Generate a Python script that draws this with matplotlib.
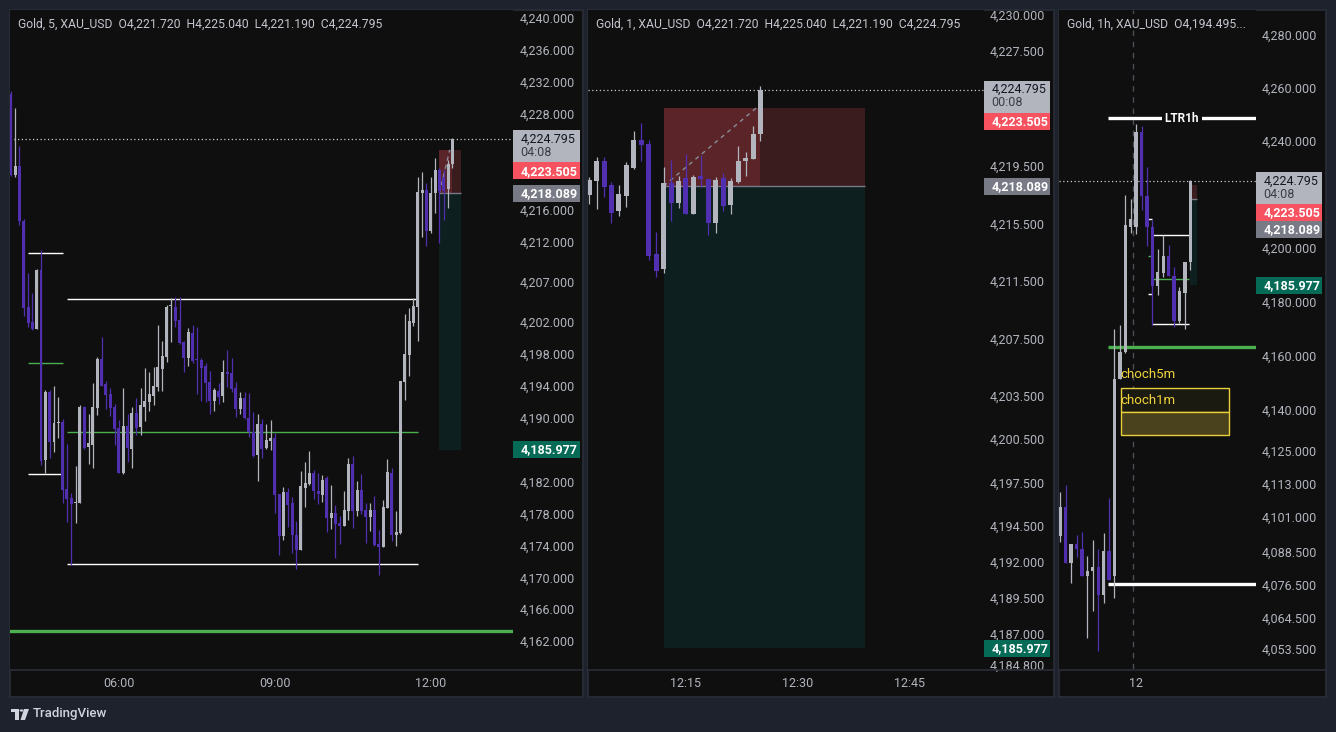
import numpy as np
import matplotlib
matplotlib.use("Agg")
import matplotlib.pyplot as plt
from matplotlib.patches import Rectangle, Polygon, Circle
from matplotlib.lines import Line2D
from matplotlib.ticker import NullLocator, NullFormatter

# ------------------------------------------------------------------ data
# Panel 1 : Gold 5 min, first bar 03:55 (minutes after midnight = 235)
m5_first = 235
m5_open = [4230.5, 4220.35, 4221.48, 4214.64, 4203.83, 4201.91, 4201.08, 4208.46, 4184.68, 4193.19,
           4186.98, 4189.30, 4189.44, 4181.05, 4179.93, 4179.30, 4179.34, 4191.36, 4186.35, 4186.56,
           4191.23, 4197.32, 4194.20, 4192.94, 4191.31, 4188.64, 4183.10, 4188.94, 4186.10, 4190.56,
           4188.81, 4191.36, 4191.94, 4192.69, 4193.82, 4196.07, 4197.57, 4203.90, 4203.83, 4202.20,
           4199.45, 4197.45, 4200.58, 4197.30, 4197.20, 4196.45, 4194.45, 4192.07, 4193.32, 4192.69,
           4195.60, 4195.57, 4193.69, 4191.07, 4192.44, 4189.94, 4188.19, 4185.31, 4189.19, 4186.18,
           4187.06, 4187.44, 4180.43, 4175.17, 4180.68, 4179.30, 4175.30, 4173.42, 4181.18, 4181.68,
           4183.05, 4180.80, 4180.30, 4182.43, 4177.42, 4178.05, 4176.80, 4176.42, 4178.30, 4184.18,
           4178.30, 4180.92, 4178.42, 4177.55, 4178.42, 4174.17, 4173.79, 4178.67, 4183.05, 4175.29,
           4175.54, 4194.45, 4197.82, 4201.83, 4203.83, 4218.10, 4218.47, 4213.34, 4218.10, 4220.97,
           4220.10, 4218.60, 4221.72]
m5_high = [4230.8, 4228.70, 4223.98, 4214.85, 4208.13, 4205.62, 4208.59, 4210.96, 4193.44, 4193.44,
           4193.94, 4192.57, 4189.80, 4186.69, 4180.51, 4183.93, 4191.57, 4191.44, 4190.44, 4194.28,
           4197.62, 4200.08, 4194.57, 4193.73, 4191.69, 4189.69, 4193.69, 4190.44, 4191.32, 4192.44,
           4193.69, 4196.20, 4195.70, 4196.32, 4201.58, 4199.58, 4204.08, 4204.96, 4205.08, 4205.08,
           4199.58, 4201.20, 4201.58, 4201.33, 4197.45, 4196.82, 4195.82, 4193.69, 4194.32, 4197.20,
           4198.45, 4197.45, 4194.45, 4193.20, 4193.20, 4193.07, 4190.69, 4190.44, 4189.81, 4189.19,
           4189.69, 4188.06, 4180.43, 4181.30, 4181.18, 4180.05, 4177.05, 4183.31, 4184.43, 4185.81,
           4183.43, 4183.06, 4182.80, 4182.68, 4181.55, 4179.05, 4177.67, 4180.80, 4184.93, 4185.18,
           4182.05, 4182.93, 4179.30, 4179.30, 4180.17, 4175.92, 4179.67, 4184.80, 4183.68, 4178.30,
           4194.57, 4202.95, 4203.70, 4204.95, 4220.10, 4220.72, 4219.35, 4220.10, 4222.48, 4221.22,
           4221.10, 4222.23, 4225.04]
m5_low = [4220.2, 4220.06, 4214.09, 4202.70, 4201.37, 4200.95, 4201.08, 4184.06, 4183.10, 4184.97,
          4185.73, 4187.48, 4179.34, 4176.92, 4171.54, 4176.84, 4179.30, 4186.06, 4184.18, 4183.72,
          4190.31, 4193.99, 4191.06, 4190.23, 4186.56, 4183.05, 4182.93, 4184.47, 4183.72, 4187.85,
          4187.85, 4189.60, 4190.86, 4191.57, 4193.32, 4193.32, 4196.95, 4199.45, 4201.33, 4199.20,
          4195.70, 4196.45, 4196.82, 4192.94, 4192.07, 4191.94, 4190.44, 4190.81, 4191.69, 4191.94,
          4193.82, 4193.20, 4190.07, 4190.44, 4189.81, 4187.56, 4185.06, 4182.05, 4184.93, 4186.06,
          4185.93, 4178.05, 4172.80, 4174.67, 4176.30, 4173.05, 4171.04, 4173.42, 4178.80, 4181.55,
          4179.80, 4179.18, 4179.43, 4175.67, 4176.05, 4172.42, 4174.17, 4176.42, 4177.17, 4176.17,
          4177.67, 4177.92, 4174.29, 4175.79, 4173.92, 4170.29, 4173.79, 4178.67, 4174.54, 4173.92,
          4175.42, 4192.19, 4195.19, 4201.45, 4199.57, 4212.59, 4211.46, 4213.09, 4215.59, 4211.84,
          4214.72, 4216.22, 4221.19]
m5_close = [4220.4, 4221.48, 4214.64, 4203.75, 4201.87, 4201.08, 4208.46, 4184.60, 4193.19, 4186.98,
            4189.27, 4189.40, 4180.93, 4179.80, 4179.17, 4179.40, 4191.36, 4186.14, 4186.77, 4191.36,
            4197.32, 4193.99, 4192.86, 4191.23, 4188.60, 4183.05, 4188.94, 4186.23, 4190.56, 4188.69,
            4191.57, 4192.07, 4192.94, 4193.94, 4196.32, 4197.70, 4203.83, 4203.99, 4202.08, 4199.32,
            4197.45, 4200.70, 4197.07, 4197.20, 4196.20, 4194.32, 4192.07, 4193.44, 4192.57, 4195.70,
            4195.50, 4193.57, 4191.07, 4192.44, 4189.94, 4188.19, 4185.18, 4189.19, 4186.06, 4187.19,
            4187.44, 4180.30, 4175.17, 4180.68, 4179.05, 4175.30, 4173.42, 4181.43, 4181.80, 4183.05,
            4180.80, 4180.43, 4182.18, 4177.42, 4178.05, 4176.67, 4176.42, 4178.42, 4184.18, 4178.30,
            4180.92, 4178.30, 4177.55, 4178.42, 4174.04, 4173.79, 4178.80, 4183.18, 4175.29, 4175.67,
            4194.57, 4197.95, 4202.08, 4203.95, 4218.22, 4218.47, 4213.34, 4218.10, 4220.97, 4218.35,
            4218.35, 4221.72, 4224.795]

# Panel 2 : Gold 1 min, first bar 12:02 (minute 722)
m1_first = 722
m1_open = [4217.47, 4218.44, 4219.83, 4218.16, 4216.38, 4217.42, 4219.37, 4221.29, 4221.01, 4213.37,
           4212.30, 4218.33, 4216.94, 4218.68, 4216.17, 4218.79, 4218.60, 4215.55, 4218.68, 4216.80,
           4218.40, 4219.83, 4219.97, 4221.72]
m1_high = [4218.74, 4220.13, 4220.13, 4218.40, 4218.16, 4219.74, 4221.92, 4222.45, 4221.29, 4214.92,
           4219.44, 4219.90, 4218.79, 4220.32, 4218.86, 4220.25, 4218.60, 4218.74, 4218.98, 4218.68,
           4220.90, 4220.48, 4222.27, 4225.04]
m1_low = [4216.84, 4216.49, 4217.35, 4215.55, 4216.01, 4216.66, 4219.28, 4219.86, 4212.95, 4211.79,
          4212.03, 4215.66, 4216.59, 4216.17, 4216.17, 4218.05, 4214.69, 4214.81, 4216.38, 4216.17,
          4218.28, 4218.82, 4219.97, 4221.19]
m1_close = [4218.51, 4219.83, 4218.05, 4216.24, 4217.54, 4219.55, 4221.29, 4220.94, 4213.25, 4212.21,
            4218.33, 4216.94, 4218.44, 4216.17, 4218.74, 4218.58, 4215.55, 4218.51, 4216.70, 4218.44,
            4219.83, 4220.02, 4221.71, 4224.795]

# Panel 3 : Gold 1 h, first bar 12:00 of the previous day (minute -720)
h1_first = -720
h1_open = [4093.9, 4104.6, 4084.1, 4091.2, 4089.4, 4079.6, 4081.3, 4082.8, 4072.6, 4088.6,
           4079.6, 4151.5, 4161.3, 4207.8, 4207.8, 4243.2, 4219.3, 4207.7, 4185.8, 4190.6,
           4196.9, 4189.5, 4172.8, 4183.2, 4194.495]
h1_high = [4110.1, 4112.4, 4091.2, 4094.5, 4095.6, 4086.8, 4092.7, 4089.4, 4095.2, 4107.7,
           4169.9, 4171.4, 4219.6, 4218.1, 4246.2, 4245.4, 4229.9, 4210.3, 4199.5, 4204.7,
           4201.0, 4192.8, 4185.4, 4194.5, 4225.04]
h1_low = [4091.7, 4084.1, 4077.1, 4086.5, 4079.6, 4057.3, 4066.9, 4052.7, 4069.8, 4078.0,
          4071.6, 4151.3, 4161.0, 4205.4, 4205.0, 4214.0, 4200.6, 4171.4, 4182.5, 4189.1,
          4189.3, 4170.6, 4172.1, 4169.9, 4191.8]
h1_close = [4104.6, 4084.1, 4091.2, 4089.4, 4079.6, 4081.3, 4082.8, 4072.6, 4088.6, 4078.1,
            4151.5, 4161.3, 4208.5, 4210.7, 4243.2, 4219.3, 4207.7, 4185.8, 4191.0, 4196.9,
            4189.3, 4172.8, 4184.0, 4194.5, 4224.795]

last_price = 4224.795
pos_entry, pos_stop, pos_target = 4218.089, 4223.505, 4185.977

# drawings (start minute, end minute, price)
thin_white = [(255, 295, 4210.55), (255, 295, 4182.89), (300, 705, 4204.79), (300, 705, 4171.63)]
thin_green = [(255, 295, 4196.78), (300, 705, 4188.15)]
thick_green = [(-195, 3000, 4163.3)]
thick_white = [(-195, 3000, 4248.4), (-195, 3000, 4076.6)]
ltr_label = "LTR1h"
choch_box_top = [(-51, 1146, 4139.2, 4148.2)]
choch_box_bottom = [(-51, 1146, 4131.0, 4139.2)]
choch_texts = [("choch5m", -51, 4153.2), ("choch1m", -51, 4143.6)]

p1_ticks = [4240, 4236, 4232, 4228, 4216, 4212, 4207, 4202, 4198, 4194, 4190, 4182, 4178, 4174,
            4170, 4166, 4162]
p2_ticks = [4230, 4227.5, 4219.5, 4215.5, 4211.5, 4207.5, 4203.5, 4200.5, 4197.5, 4194.5, 4192,
            4189.5, 4187, 4184.8]
p3_ticks = [4280, 4260, 4240, 4200, 4180, 4160, 4140, 4125, 4113, 4101, 4088.5, 4076.5, 4064.5,
            4053.5]
p1_xticks, p1_xlabels = [360, 540, 720], ["06:00", "09:00", "12:00"]
p2_xticks, p2_xlabels = [735, 750, 765], ["12:15", "12:30", "12:45"]
p3_xticks, p3_xlabels = [120], ["12"]

headers = ["Gold, 5, XAU_USD  O4,221.720  H4,225.040  L4,221.190  C4,224.795",
           "Gold, 1, XAU_USD  O4,221.720  H4,225.040  L4,221.190  C4,224.795",
           "Gold, 1h, XAU_USD  O4,194.495..."]
countdowns = ["04:08", "00:08", "04:08"]

# ------------------------------------------------------------------ style
plt.rcParams['font.family'] = ['Roboto', 'DejaVu Sans']
W, H = 1336, 732
BG = '#1e222d'
PANEL = '#0f0f0f'
BORDER = '#2a2e39'
TXT = '#b2b5be'
UPC = '#b2b5be'
DNC = '#5030b0'
GREEN = '#4caf50'

fig = plt.figure(figsize=(W / 100, H / 100), dpi=100, facecolor=BG)


def fx(x):
    return x / W


def fy(y):
    return 1 - y / H


def panel_bg(x0, x1, y0=9.5, y1=696.5):
    fig.add_artist(Rectangle((fx(x0), fy(y1)), fx(x1) - fx(x0), fy(y0) - fy(y1),
                             transform=fig.transFigure, fc=PANEL, ec=BORDER, lw=1.2, zorder=-5))
    fig.add_artist(Line2D([fx(x0), fx(x1)], [fy(669.5)] * 2, color=BORDER, lw=1.2,
                          transform=fig.transFigure, zorder=5))


def make_ax(x0, x1, y0=10, y1=669):
    ax = fig.add_axes([fx(x0), fy(y1), fx(x1) - fx(x0), fy(y0) - fy(y1)])
    ax.set_facecolor(PANEL)
    for s in ax.spines.values():
        s.set_visible(False)
    return ax


def inside(ax, x, y):
    x0, x1 = ax.get_xlim()
    y0, y1 = ax.get_ylim()
    return x0 <= x <= x1 and y0 <= y <= y1


def candles(ax, first, step, o, h, l, c, wfrac, min_h):
    o, h, l, c = map(np.asarray, (o, h, l, c))
    x = first + step * np.arange(len(o))
    cols = np.where(c >= o, UPC, DNC)
    ax.vlines(x, l, h, colors=cols, lw=0.9, zorder=4)
    bottom = np.minimum(o, c)
    height = np.maximum(np.abs(c - o), min_h)
    ax.bar(x, height, step * wfrac, bottom, color=cols, linewidth=0, zorder=5)
    return x


def setup_axis(ax, ticks, xt, xl, pad_px):
    ax.yaxis.tick_right()
    ax.set_yticks(ticks)
    ax.set_yticklabels([f"{v:,.3f}" for v in ticks])
    ax.yaxis.set_minor_locator(NullLocator())
    ax.yaxis.set_minor_formatter(NullFormatter())
    ax.tick_params(axis='y', length=0, pad=pad_px * 0.72, labelsize=9, labelcolor=TXT)
    for lab in ax.get_yticklabels():
        lab.set_horizontalalignment('right')
    ax.set_xticks(xt)
    ax.set_xticklabels(xl)
    ax.xaxis.set_minor_locator(NullLocator())
    ax.tick_params(axis='x', length=0, pad=5.5, labelsize=9, labelcolor=TXT)


def drawings(ax, xlim):
    for s, e, p in thin_white:
        ax.hlines(p, s, e, color='white', lw=1.0, zorder=3)
    for s, e, p in thin_green:
        ax.hlines(p, s, e, color=GREEN, lw=1.0, zorder=3)
    for s, e, p in thick_green:
        ax.hlines(p, s, e, color=GREEN, lw=2.4, zorder=3)
    for i, (s, e, p) in enumerate(thick_white):
        ax.hlines(p, s, e, color='white', lw=2.4, zorder=3)
        if i == 0:
            cx = (max(s, xlim[0]) + min(e, xlim[1])) / 2
            if inside(ax, cx, p):
                ax.text(cx, p, ltr_label, color='white', fontsize=8.5, fontweight='bold',
                        ha='center', va='center', zorder=6,
                        bbox=dict(boxstyle='square,pad=0.25', fc=PANEL, ec='none'))
    for s, e, b, t in choch_box_top:
        ax.add_patch(Rectangle((s, b), e - s, t - b, fc='#1b1a10', ec='#e9cf3c', lw=1.0, zorder=2))
    for s, e, b, t in choch_box_bottom:
        ax.add_patch(Rectangle((s, b), e - s, t - b, fc='#4a421c', ec='#e9cf3c', lw=1.0, zorder=2))
    for txt, s, p in choch_texts:
        if inside(ax, s, p):
            ax.text(s, p, txt, color='#f2d43d', fontsize=9.5, ha='left', va='center', zorder=6)


def position_tool(ax, start, end, current, step, diag=True):
    ax.add_patch(Rectangle((start, pos_entry), current - start, pos_stop - pos_entry,
                           fc='#5a2429', ec='none', zorder=1))
    ax.add_patch(Rectangle((current, pos_entry), end - current, pos_stop - pos_entry,
                           fc='#3a1b1e', ec='none', zorder=1))
    ax.add_patch(Rectangle((start, pos_target), end - start, pos_entry - pos_target,
                           fc='#0d1f1e', ec='none', zorder=1))
    ax.hlines(pos_entry, start, end, color='#787b86', lw=1.0, zorder=2)
    if diag:
        ax.plot([start, current - 0.6 * step], [pos_entry, pos_stop], color='#8a8d96', lw=1.0,
                ls=(0, (3, 3)), zorder=2)


def last_line(ax, xlim):
    ax.hlines(last_price, xlim[0], xlim[1], color='#c8cbd2', lw=0.9, ls=(0, (1, 2)), zorder=3)


def badges(ax, x0, x1, countdown):
    items = [(last_price, [f"{last_price:,.3f}", countdown], '#b2b5be', '#131722', 32, 9),
             (pos_stop, [f"{pos_stop:,.3f}"], '#f7525f', 'white', 17, 8.5),
             (pos_entry, [f"{pos_entry:,.3f}"], '#787b86', 'white', 17, 8.5),
             (pos_target, [f"{pos_target:,.3f}"], '#056b57', 'white', 17, 8.5)]
    boxes = []
    for price, lines, fc, tc, hh, off in items:
        ydisp = ax.transData.transform((ax.get_xlim()[0], price))[1]
        top = (H - ydisp) - off
        boxes.append([top, hh, lines, fc, tc])
    boxes.sort(key=lambda b: b[0])
    prev_bottom = -1e9
    for b in boxes:
        if b[0] < prev_bottom:
            b[0] = prev_bottom
        prev_bottom = b[0] + b[1]
    for top, hh, lines, fc, tc in boxes:
        fig.add_artist(Rectangle((fx(x0), fy(top + hh)), fx(x1) - fx(x0), hh / H,
                                 transform=fig.transFigure, fc=fc, ec='none', zorder=6))
        weight = 'normal' if tc != 'white' else 'bold'
        for k, line in enumerate(lines):
            col = tc if k == 0 else '#3a3e48'
            fig.text(fx(x0 + 7.5), fy(top + 8.8 + 13.5 * k), line, color=col, fontsize=9,
                     fontweight=weight, ha='left', va='center', zorder=7)


# ------------------------------------------------------------------ panel 1 (5 min)
panel_bg(9.5, 582.5)
ax1 = make_ax(10, 513)
x1lim = (234.2, 815.0)
candles(ax1, m5_first, 5, m5_open, m5_high, m5_low, m5_close, 0.69, 0.13)
ax1.set_xlim(*x1lim)
ax1.set_ylim(4158.52, 4241.0)
drawings(ax1, x1lim)
position_tool(ax1, 730, 755, 745, 5)
last_line(ax1, x1lim)
setup_axis(ax1, p1_ticks, p1_xticks, p1_xlabels, 62)
fig.text(fx(18), fy(24), headers[0], color='#c3c6ce', fontsize=8.7, ha='left', va='center')

# ------------------------------------------------------------------ panel 2 (1 min)
panel_bg(587.5, 1053.5)
ax2 = make_ax(588, 983.5)
x2lim = (721.85, 774.93)
candles(ax2, m1_first, 1, m1_open, m1_high, m1_low, m1_close, 0.67, 0.07)
ax2.set_xlim(*x2lim)
ax2.set_ylim(4184.52, 4230.33)
drawings(ax2, x2lim)
position_tool(ax2, 732, 759, 745, 1)
last_line(ax2, x2lim)
setup_axis(ax2, p2_ticks, p2_xticks, p2_xlabels, 61.5)
fig.text(fx(596), fy(24), headers[1], color='#c3c6ce', fontsize=8.7, ha='left', va='center')

# ------------------------------------------------------------------ panel 3 (1 h, log scale)
panel_bg(1058.5, 1326)
ax3 = make_ax(1059, 1256)
x3lim = (-734.4, 1447.8)
ax3.set_yscale('log')
candles(ax3, h1_first, 60, h1_open, h1_high, h1_low, h1_close, 0.62, 0.37)
ax3.set_xlim(*x3lim)
ax3.set_ylim(4046.1, 4289.3)
ax3.axvline(90, color='#4a4d55', lw=1.0, ls=(0, (4, 4)), zorder=1)
drawings(ax3, x3lim)
position_tool(ax3, 720, 792, 720, 60, diag=False)
last_line(ax3, x3lim)
setup_axis(ax3, p3_ticks, p3_xticks, p3_xlabels, 60.7)
fig.text(fx(1067), fy(24), headers[2], color='#c3c6ce', fontsize=8.7, ha='left', va='center')

# ------------------------------------------------------------------ price badges
badges(ax1, 513, 580, countdowns[0])
badges(ax2, 984, 1049.5, countdowns[1])
badges(ax3, 1256, 1321.7, countdowns[2])

# ------------------------------------------------------------------ TradingView mark
fig.add_artist(Rectangle((fx(11), fy(712)), fx(19) - fx(11), 3.5 / H, transform=fig.transFigure,
                         fc='#d1d4dc', ec='none'))
fig.add_artist(Rectangle((fx(15), fy(720)), fx(19) - fx(15), 11 / H, transform=fig.transFigure,
                         fc='#d1d4dc', ec='none'))
fig.add_artist(Circle((fx(21.5), fy(710.5)), 2.0 / W, transform=fig.transFigure,
                      fc='#d1d4dc', ec='none'))
fig.add_artist(Polygon([(fx(24), fy(709)), (fx(29), fy(709)), (fx(25), fy(720)), (fx(20.5), fy(720))],
                       closed=True, transform=fig.transFigure, fc='#d1d4dc', ec='none'))
fig.text(fx(33), fy(714), "TradingView", color='#d1d4dc', fontsize=9.5, fontweight='medium',
         ha='left', va='center')

fig.savefig("out.png", dpi=100, facecolor=BG)
